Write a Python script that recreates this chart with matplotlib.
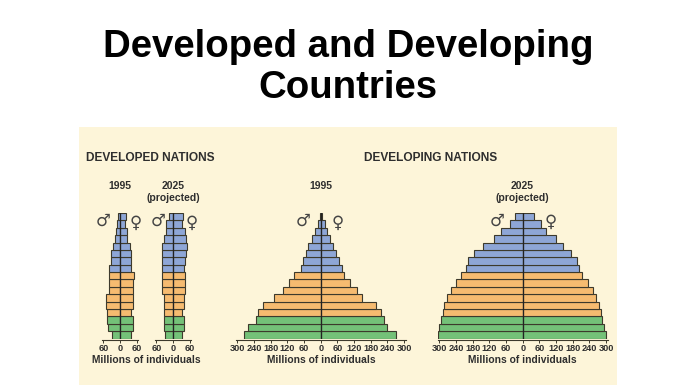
import matplotlib
matplotlib.use('Agg')
import matplotlib.pyplot as plt
from matplotlib.patches import Rectangle

W, H = 696, 385
plt.rcParams['font.family'] = ['Liberation Sans', 'DejaVu Sans']

# values run from the youngest age group (bottom) to the oldest (top), millions
dev95_m = [28, 44, 46, 45, 49, 49, 39, 39, 39, 39, 33, 31, 26, 18, 14, 9, 6]
dev95_f = [39, 45, 45, 41, 45, 47, 47, 47, 49, 39, 38, 40, 35, 26, 24, 18, 21]
dev25_m = [28, 32, 34, 32, 32, 34, 38, 38, 38, 38, 38, 38, 38, 34, 25, 25, 16]
dev25_f = [34, 39, 39, 34, 39, 41, 44, 44, 44, 39, 44, 46, 51, 46, 42, 34, 36]
dvg95_m = [276, 260, 234, 224, 206, 167, 134, 114, 95, 71, 62, 53, 44, 30, 20, 10, 4]
dvg95_f = [271, 240, 226, 216, 198, 148, 131, 104, 84, 76, 66, 55, 44, 34, 22, 14, 6]
dvg25_m = [304, 300, 295, 288, 282, 271, 258, 239, 221, 203, 197, 175, 142, 102, 77, 46, 26]
dvg25_f = [300, 293, 286, 281, 275, 264, 252, 234, 214, 202, 197, 172, 145, 119, 85, 65, 41]

band_colors = ['#74c178'] * 3 + ['#f6bb70'] * 6 + ['#8ea6d6'] * 8
edge = '#3d3a2c'
text_col = '#2e2e2e'
cream = '#fdf5d9'

ticks_small = [-60, 0, 60]
ticks_large = [-300, -240, -180, -120, -60, 0, 60, 120, 180, 240, 300]

fig = plt.figure(figsize=(W / 100, H / 100), dpi=100, facecolor='white')
fig.patches.append(Rectangle((79 / W, 0), 538 / W, 258 / H, transform=fig.transFigure,
                             facecolor=cream, edgecolor='none', zorder=-5))


def ptext(x, y, s, va='center', **kw):
    fig.text(x / W, 1 - y / H, s, ha='center', va=va, **kw)


def pyramid(cx, male, female, ticks, half, px_per_unit=83.4 / 300):
    # half = half width of the axis in data units
    w = half * px_per_unit
    ax = fig.add_axes([(cx - w) / W, 1 - 338.5 / H, 2 * w / W, 125.5 / H])
    ax.patch.set_alpha(0)
    # set_position resets the ticks, so it has to come before the tick styling
    ax.spines['bottom'].set_position(('outward', 1))
    ax.spines['bottom'].set_color(edge)
    ax.spines['bottom'].set_linewidth(0.8)
    for s in ['top', 'left', 'right']:
        ax.spines[s].set_visible(False)
    y = list(range(len(male)))
    ax.barh(y, [-v for v in male], height=1, align='edge', color=band_colors,
            edgecolor=edge, linewidth=0.8)
    ax.barh(y, female, height=1, align='edge', color=band_colors,
            edgecolor=edge, linewidth=0.8)
    ax.axvline(0, color='#222222', lw=0.9)
    ax.set_xlim(-half, half)
    ax.set_ylim(0, len(male))
    ax.set_yticks([])
    ax.set_xticks(ticks)
    ax.tick_params(axis='x', length=2, width=0.7, pad=0.8, color=edge)
    ax.set_xticklabels([str(abs(t)) for t in ticks], fontsize=6.6, fontweight='bold',
                       color=text_col)
    return ax


pyramid(120, dev95_m, dev95_f, ticks_small, 66)
pyramid(173, dev25_m, dev25_f, ticks_small, 66)
pyramid(320.7, dvg95_m, dvg95_f, ticks_large, 306)
pyramid(522.7, dvg25_m, dvg25_f, ticks_large, 306)

ptext(348, 57, 'Developed and Developing', va='baseline', fontsize=27.6, fontweight='bold', color='black')
ptext(348, 98, 'Countries', va='baseline', fontsize=27.6, fontweight='bold', color='black')

ptext(150, 158, 'DEVELOPED NATIONS', fontsize=8.6, fontweight='bold', color=text_col)
ptext(431, 158, 'DEVELOPING NATIONS', fontsize=8.6, fontweight='bold', color=text_col)

ptext(120, 186, '1995', fontsize=7.5, fontweight='bold', color=text_col)
ptext(173, 186, '2025', fontsize=7.5, fontweight='bold', color=text_col)
ptext(173, 198, '(projected)', fontsize=7.5, fontweight='bold', color=text_col)
ptext(321, 186, '1995', fontsize=7.5, fontweight='bold', color=text_col)
ptext(522, 186, '2025', fontsize=7.5, fontweight='bold', color=text_col)
ptext(522, 198, '(projected)', fontsize=7.5, fontweight='bold', color=text_col)

ptext(146, 360, 'Millions of individuals', fontsize=7.4, fontweight='bold', color=text_col)
ptext(321, 360, 'Millions of individuals', fontsize=7.4, fontweight='bold', color=text_col)
ptext(522, 360, 'Millions of individuals', fontsize=7.4, fontweight='bold', color=text_col)

# gender signs beside the top of each pyramid
for x_m, x_f, y_m, y_f in [(103, 136, 221, 223), (158, 192, 221, 223),
                           (303, 338, 221, 223), (497, 551, 221, 222)]:
    ptext(x_m, y_m, '\u2642', fontsize=12, color='#444444', family='DejaVu Sans')
    ptext(x_f, y_f, '\u2640', fontsize=12, color='#444444', family='DejaVu Sans')

fig.savefig('out.png', dpi=100)
